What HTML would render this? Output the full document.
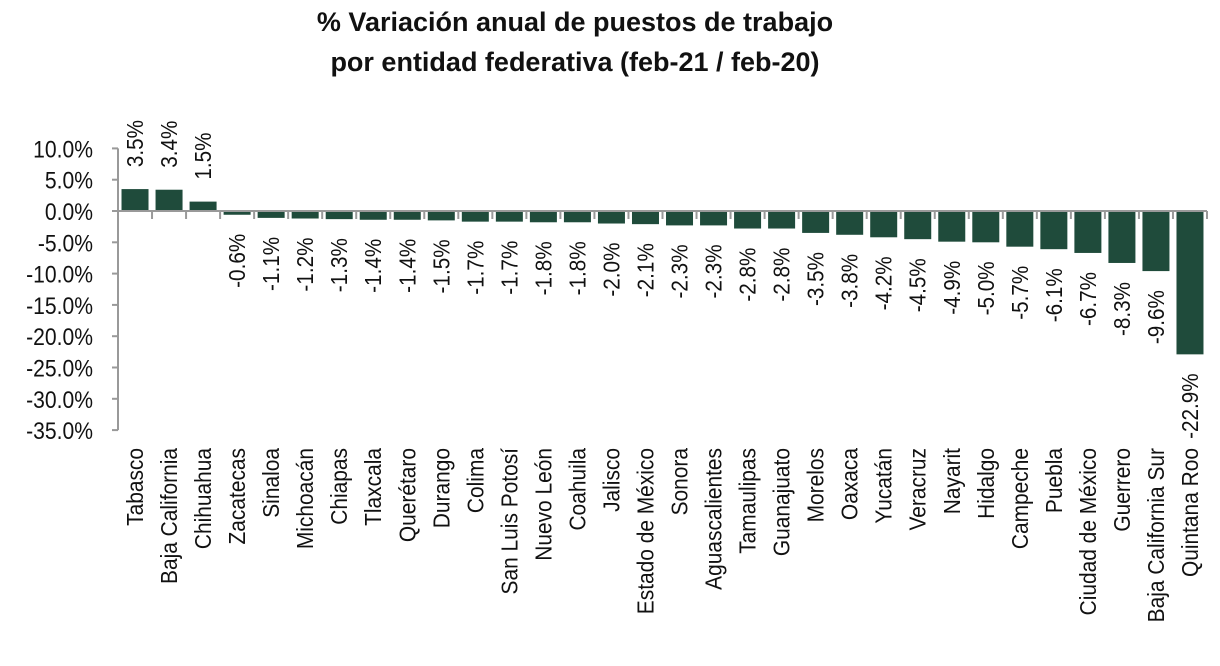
<!DOCTYPE html>
<html><head><meta charset="utf-8"><style>
body{margin:0;background:#fff;}
svg{display:block;font-family:"Liberation Sans",Arial,sans-serif;}
</style></head><body>
<svg id="chart" width="1220" height="666">
<text x="575" y="31" text-anchor="middle" font-size="27" font-weight="bold" fill="#111">% Variación anual de puestos de trabajo</text>
<text x="575" y="71" text-anchor="middle" font-size="27" font-weight="bold" fill="#111">por entidad federativa (feb-21 / feb-20)</text>
<g id="plot"></g>
</svg>
<script>
const categories=["Tabasco","Baja California","Chihuahua","Zacatecas","Sinaloa","Michoacán","Chiapas","Tlaxcala","Querétaro","Durango","Colima","San Luis Potosí","Nuevo León","Coahuila","Jalisco","Estado de México","Sonora","Aguascalientes","Tamaulipas","Guanajuato","Morelos","Oaxaca","Yucatán","Veracruz","Nayarit","Hidalgo","Campeche","Puebla","Ciudad de México","Guerrero","Baja California Sur","Quintana Roo"];
const values=[3.5,3.4,1.5,-0.6,-1.1,-1.2,-1.3,-1.4,-1.4,-1.5,-1.7,-1.7,-1.8,-1.8,-2.0,-2.1,-2.3,-2.3,-2.8,-2.8,-3.5,-3.8,-4.2,-4.5,-4.9,-5.0,-5.7,-6.1,-6.7,-8.3,-9.6,-22.9];
const yTicks=[10,5,0,-5,-10,-15,-20,-25,-30,-35];
const NS="http://www.w3.org/2000/svg";
const g=document.getElementById('plot');
const x0=118,x1=1207,yZero=211,pxPer=6.26;
const step=(x1-x0)/categories.length;
const y=v=>yZero-v*pxPer;
const xc=i=>x0+step*(i+0.5);
function el(t,a){const e=document.createElementNS(NS,t);for(const k in a)e.setAttribute(k,a[k]);g.appendChild(e);return e;}
const ax=el('line',{x1:x0,x2:x0,y1:y(10),y2:y(-35),stroke:'#999','stroke-width':2});


yTicks.forEach(t=>{
  const tk=el('line',{x1:x0-6,x2:x0,y1:y(t),y2:y(t),stroke:'#999','stroke-width':2});
  
  
  const lb=el('text',{x:0,y:0,'text-anchor':'end','font-size':24,fill:'#111',transform:`translate(${x0-25},${y(t)+9}) scale(0.88,1)`});
  lb.textContent=t.toFixed(1)+'%';
  
  
});
values.forEach((v,i)=>{
  const bw=27,cx=xc(i);
  const r=el('rect',{x:cx-bw/2,y:Math.min(y(v),yZero),width:bw,height:Math.abs(y(v)-yZero),fill:'#1f4b3b'});
  
  
  const tk=el('line',{x1:x0+step*(i+1),x2:x0+step*(i+1),y1:yZero,y2:yZero+8,stroke:'#999','stroke-width':2});
  
  
  let ly,anchor;
  if(v>=0){ly=y(v)-22;anchor='start';}else{ly=y(v)+19;anchor='end';}
  const vl=el('text',{x:0,y:0,'text-anchor':anchor,'font-size':23,fill:'#111',transform:`translate(${cx+8},${ly}) rotate(-90) scale(0.9,1)`});
  vl.textContent=v.toFixed(1)+'%';
  
  
  const cl=el('text',{x:0,y:0,'text-anchor':'end','font-size':23,fill:'#111',transform:`translate(${cx+8},${448}) rotate(-90) scale(0.91,1)`});
  cl.textContent=categories[i];
  
  
});
const base=el('line',{x1:x0,x2:x1,y1:yZero,y2:yZero,stroke:'#999','stroke-width':2});


</script>
</body></html>
